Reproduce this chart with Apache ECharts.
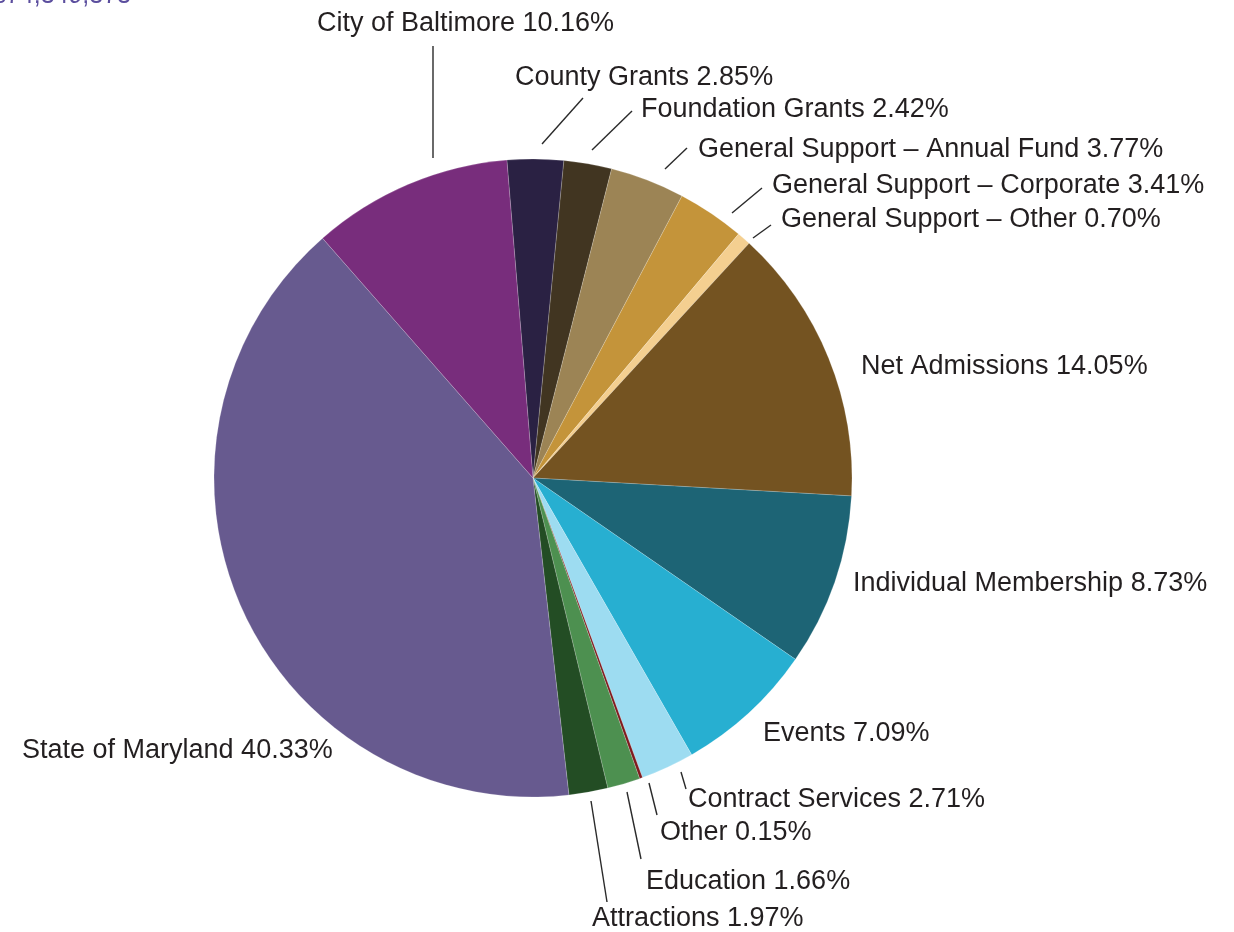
<!DOCTYPE html>
<html>
<head>
<meta charset="utf-8">
<script src="https://cdn.jsdelivr.net/npm/echarts@6/dist/echarts.min.js"></script>
<style>
html,body{margin:0;padding:0;background:#fff;}
#chart{width:1234px;height:932px;}
</style>
</head>
<body>
<div id="chart"></div>
<script>
// Categories in clockwise order, starting just left of 12 o'clock
const categories = [
  'County Grants',
  'Foundation Grants',
  'General Support – Annual Fund',
  'General Support – Corporate',
  'General Support – Other',
  'Net Admissions',
  'Individual Membership',
  'Events',
  'Contract Services',
  'Other',
  'Education',
  'Attractions',
  'State of Maryland',
  'City of Baltimore'
];
const shares = [2.85, 2.42, 3.77, 3.41, 0.70, 14.05, 8.73, 7.09, 2.71, 0.15, 1.66, 1.97, 40.33, 10.16];
const sliceColors = [
  '#2a2143', '#413521', '#9c8455', '#c4943a', '#f4cf90', '#745321', '#1d6475',
  '#27afd1', '#9ddcf1', '#7d1a1f', '#4d9050', '#234d24', '#675a8f', '#782d7c'
];
// Label anchors (left edge, vertical middle of text), in pixels
const labelAnchors = [
  [515, 78], [641, 110], [698, 150], [772, 186], [781, 220], [861, 367], [853, 584],
  [763, 734], [688, 800], [660, 833], [646, 882], [592, 919], [22, 751], [317, 24]
];
// Leader lines (start near slice, end near label); null = no line
const leaderLines = [
  [[542, 144], [583, 98]],
  [[592, 150], [632, 111]],
  [[665, 169], [687, 148]],
  [[732, 213], [762, 188]],
  [[753, 238], [771, 225]],
  null, null, null,
  [[681, 772], [686, 789]],
  [[649, 783], [657, 815]],
  [[627, 792], [641, 859]],
  [[591, 801], [607, 902]],
  null,
  [[433, 158], [433, 46]]
];

const chart = echarts.init(document.getElementById('chart'), null, {renderer: 'canvas'});
const fontFamily = '"Liberation Sans", Arial, Helvetica, sans-serif';

const pieData = categories.map((name, i) => ({
  name: name,
  value: shares[i],
  itemStyle: {color: sliceColors[i]},
  labelLine: {show: !!leaderLines[i]}
}));

chart.setOption({
  animation: false,
  backgroundColor: '#ffffff',
  graphic: [{
    type: 'text',
    left: -8,
    top: -16,
    style: {
      text: '$74,349,373',
      fill: '#5b4e9e',
      font: '25px ' + fontFamily
    }
  }],
  series: [{
    type: 'pie',
    center: [533, 478],
    radius: [0, 319],
    startAngle: 94.7,
    clockwise: true,
    avoidLabelOverlap: false,
    itemStyle: {borderColor: 'rgba(255,255,255,0.3)', borderWidth: 0.6},
    label: {
      show: true,
      position: 'outside',
      color: '#231f20',
      fontSize: 27,
      fontFamily: fontFamily,
      formatter: p => p.name + ' ' + p.value.toFixed(2) + '%'
    },
    labelLine: {
      show: true,
      length: 10,
      length2: 10,
      lineStyle: {color: '#2a2a2a', width: 1.4}
    },
    labelLayout: function (params) {
      const i = params.dataIndex;
      const a = labelAnchors[i];
      const out = {x: a[0], y: a[1], align: 'left', verticalAlign: 'middle'};
      if (leaderLines[i]) out.labelLinePoints = leaderLines[i];
      return out;
    },
    emphasis: {disabled: true},
    data: pieData
  }]
});
</script>
</body>
</html>
